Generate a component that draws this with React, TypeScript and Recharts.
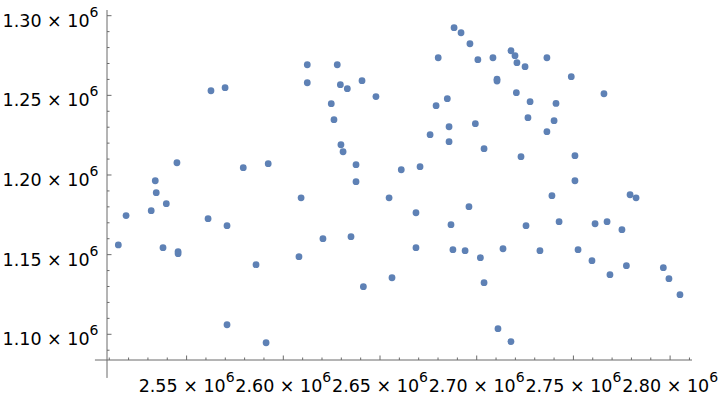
import { ReferenceLine, Scatter, ScatterChart, XAxis, YAxis } from "recharts"

const xValues = [
  2514700, 2518700, 2531700, 2533800, 2534300, 2537800, 2539500, 2545000, 2545600, 2545600,
  2561100, 2562600, 2569900, 2570900, 2570900, 2579300, 2585900, 2591100, 2592200, 2608100,
  2609200, 2612400, 2612400, 2620500, 2624800, 2626200, 2627900, 2629500, 2629800, 2630900,
  2633100, 2635000, 2637600, 2637600, 2640700, 2641400, 2647900, 2654700, 2656200, 2661000,
  2668600, 2668600, 2670700, 2675900, 2679000, 2680100, 2684800, 2685700, 2685700, 2686700,
  2687700, 2688300, 2691900, 2694000, 2696000, 2696500, 2699300, 2700600, 2701900, 2703800,
  2703800, 2708400, 2710500, 2710500, 2711000, 2713600, 2717700, 2717700, 2719800, 2720500,
  2720800, 2722900, 2725000, 2725500, 2726500, 2727600, 2732700, 2736300, 2736300, 2738900,
  2740000, 2741000, 2742600, 2748900, 2750800, 2750800, 2752400, 2759600, 2761200, 2765800,
  2767400, 2768900, 2775100, 2777400, 2779300, 2782400, 2796500, 2799400, 2805100,
]

const yValues = [
  1156100, 1174500, 1177600, 1196400, 1188900, 1154400, 1182000, 1207700, 1151900, 1150600,
  1172600, 1252900, 1254800, 1168200, 1106000, 1204600, 1143700, 1094700, 1207100, 1148700,
  1185700, 1269200, 1257900, 1160000, 1244800, 1234700, 1269200, 1256700, 1219000, 1214600,
  1254200, 1161300, 1206500, 1195800, 1259200, 1129900, 1249200, 1185700, 1135500, 1203300,
  1176300, 1154400, 1205200, 1225300, 1243500, 1273600, 1247900, 1230300, 1220900, 1168800,
  1153100, 1292500, 1289300, 1152500, 1180100, 1282400, 1232200, 1272400, 1148100, 1216500,
  1132400, 1273600, 1260100, 1259000, 1103500, 1153700, 1095400, 1278000, 1274900, 1251700,
  1270500, 1211500, 1268000, 1168200, 1236000, 1246000, 1152500, 1273600, 1227200, 1187000,
  1234100, 1244900, 1170700, 1261700, 1212100, 1196400, 1153100, 1146200, 1169400, 1251000,
  1170700, 1137400, 1165700, 1143100, 1187600, 1185700, 1141800, 1134900, 1124900,
]

const xTicks = [
  2510000, 2520000, 2530000, 2540000, 2550000, 2560000, 2570000, 2580000, 2590000, 2600000,
  2610000, 2620000, 2630000, 2640000, 2650000, 2660000, 2670000, 2680000, 2690000, 2700000,
  2710000, 2720000, 2730000, 2740000, 2750000, 2760000, 2770000, 2780000, 2790000, 2800000,
  2810000,
]

const yTicks = [
  1090000, 1100000, 1110000, 1120000, 1130000, 1140000, 1150000, 1160000, 1170000, 1180000,
  1190000, 1200000, 1210000, 1220000, 1230000, 1240000, 1250000, 1260000, 1270000, 1280000,
  1290000, 1300000,
]

const xDomain = [2508840, 2811320]
const yDomain = [1083860, 1303580]
const xOrigin = 2508840
const yOrigin = 1083860
const xAxisStart = 2502600
const yAxisStart = 1072600

const points = xValues.map((x, i) => ({ x, y: yValues[i] }))

const axisColor = "#6a6a6a"
const dotColor = "#5e81b5"
const font = "'DejaVu Sans', sans-serif"

const isMajor = (v: number) => Math.round(v / 10000) % 5 === 0
const mantissa = (v: number) => (v / 1e6).toFixed(2)

function XTick(props: any) {
  const { x, y, payload } = props
  const major = isMajor(payload.value)
  return (
    <g>
      <line x1={x} y1={y} x2={x} y2={y - (major ? 4.5 : 2.5)} stroke={axisColor} strokeWidth={1} />
      {major && (
        <text x={x} y={y + 31.5} textAnchor="middle" fontFamily={font} fontSize={17.5} fill="#000">
          <tspan>{mantissa(payload.value)} × 10</tspan>
          <tspan dy={-9.5} fontSize={14}>6</tspan>
        </text>
      )}
    </g>
  )
}

function YTick(props: any) {
  const { x, y, payload } = props
  const major = isMajor(payload.value)
  return (
    <g>
      <line x1={x} y1={y} x2={x + (major ? 4.5 : 2.5)} y2={y} stroke={axisColor} strokeWidth={1} />
      {major && (
        <text x={x - 8.5} y={y + 11} textAnchor="end" fontFamily={font} fontSize={17.5} fill="#000">
          <tspan>{mantissa(payload.value)} × 10</tspan>
          <tspan dy={-10} fontSize={14}>6</tspan>
        </text>
      )}
    </g>
  )
}

export default function App() {
  return (
    <div style={{ position: "absolute", left: 0, top: 0, width: 720, height: 398, background: "#fff" }}>
      <ScatterChart width={720} height={398} margin={{ top: 10, right: 28, bottom: 8, left: 7 }}>
        <XAxis
          type="number"
          dataKey="x"
          domain={xDomain}
          allowDataOverflow
          ticks={xTicks}
          interval={0}
          height={30}
          tickSize={0}
          tickMargin={0}
          tickLine={false}
          axisLine={{ stroke: axisColor }}
          tick={<XTick />}
        />
        <YAxis
          type="number"
          dataKey="y"
          domain={yDomain}
          allowDataOverflow
          ticks={yTicks}
          interval={0}
          width={100}
          tickSize={0}
          tickMargin={0}
          tickLine={false}
          axisLine={{ stroke: axisColor }}
          tick={<YTick />}
        />
        <ReferenceLine
          segment={[{ x: xAxisStart, y: yOrigin }, { x: xOrigin, y: yOrigin }]}
          stroke={axisColor}
          ifOverflow="visible"
        />
        <ReferenceLine
          segment={[{ x: xOrigin, y: yAxisStart }, { x: xOrigin, y: yOrigin }]}
          stroke={axisColor}
          ifOverflow="visible"
        />
        <Scatter
          data={points}
          isAnimationActive={false}
          shape={(p: any) => <circle cx={p.cx} cy={p.cy} r={3.4} fill={dotColor} />}
        />
      </ScatterChart>
    </div>
  )
}
